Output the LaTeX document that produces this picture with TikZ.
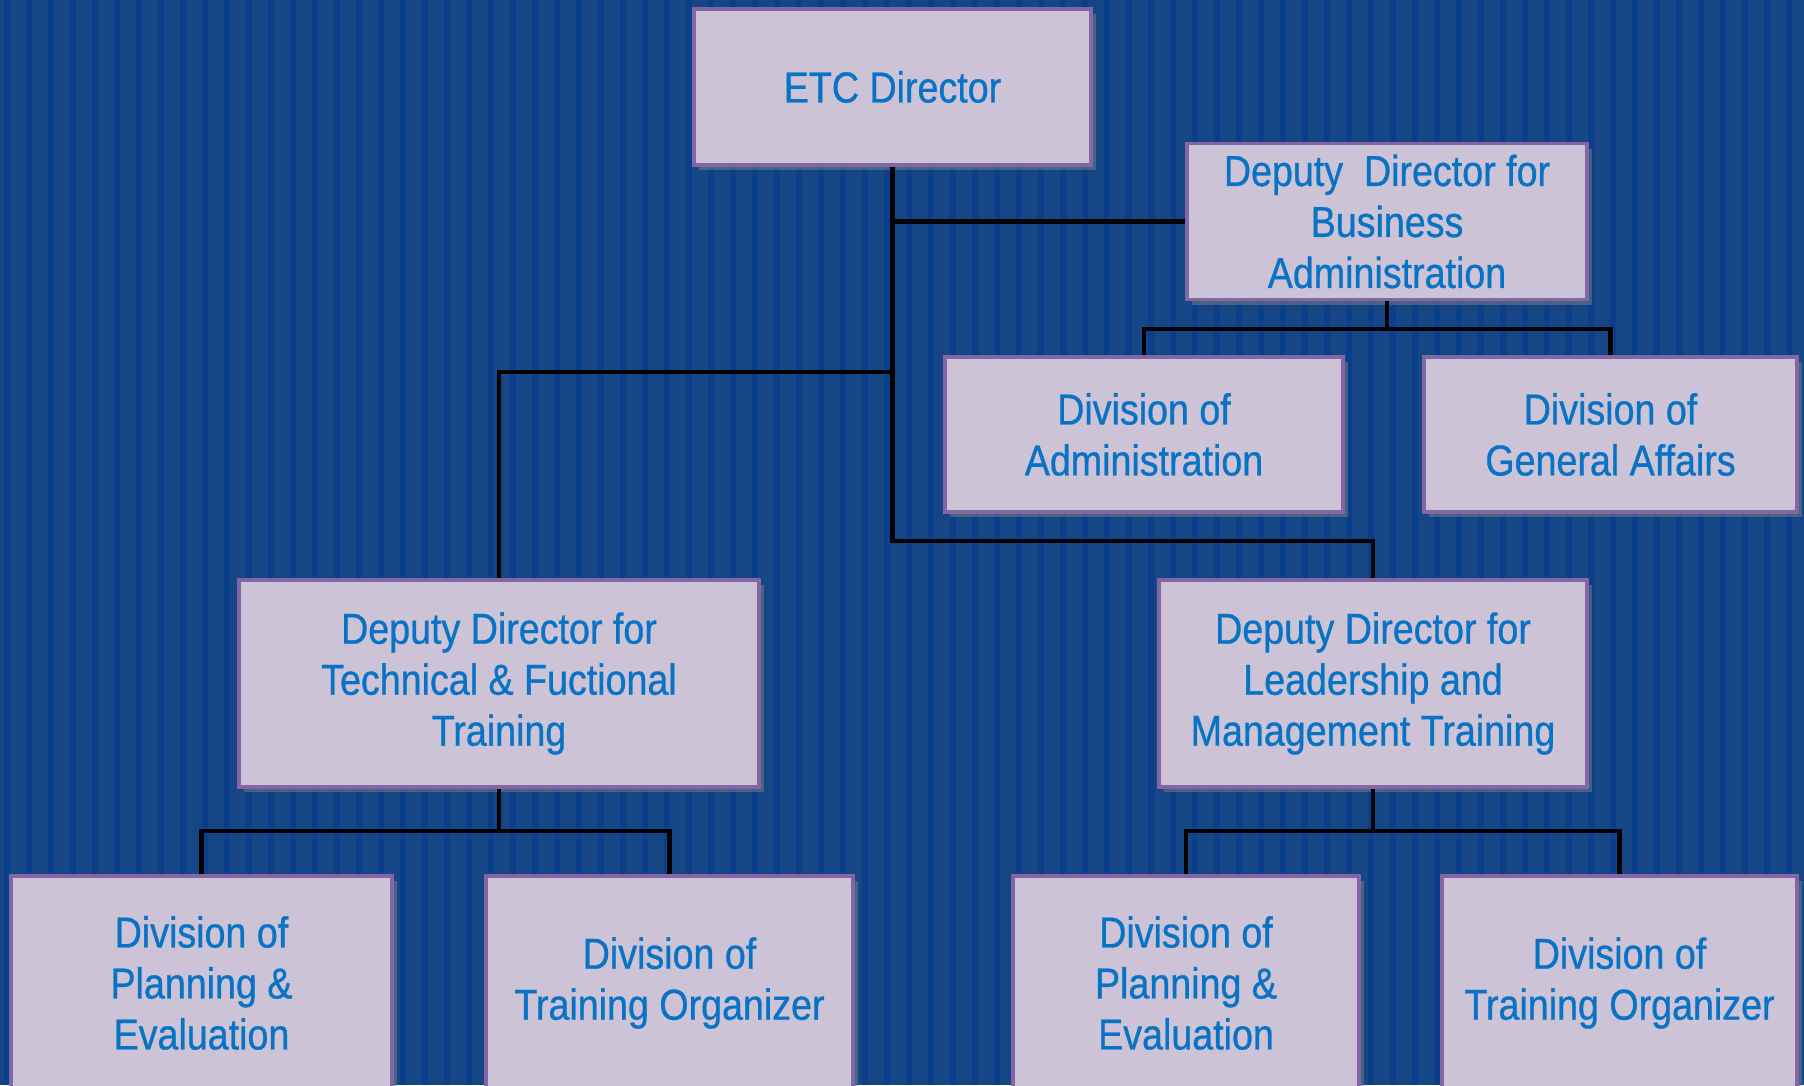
\documentclass[tikz,border=0pt]{standalone}
\usepackage{fontspec}
\setmainfont{Liberation Sans}[FakeStretch=0.87, FakeBold=0.7]
\usetikzlibrary{positioning,shadows}
\definecolor{bgBlue}{RGB}{22,70,133}
\definecolor{bgStripe}{RGB}{11,63,137}
\definecolor{boxFill}{RGB}{204,196,214}
\definecolor{boxLine}{RGB}{130,102,165}
\definecolor{boxText}{RGB}{8,114,196}
\tikzset{
    unit/.style={draw=boxLine, line width=1pt, fill=boxFill, text=boxText,
        align=center, inner sep=0pt, minimum height=1.56cm,
        font=\fontsize{12.3}{14.5}\selectfont,
        drop shadow={opacity=0.5, shadow xshift=1.5pt, shadow yshift=-1.5pt}},
    link/.style={black, line width=1.2pt}
}

\begin{document}
\begin{tikzpicture}[x=0.01cm, y=-0.01cm]
        \useasboundingbox (0,0) rectangle (1804,1085);
        \clip (0,0) rectangle (1804,1085);
        % background
        \fill[bgBlue] (0,0) rectangle (1804,1085);
        \foreach \i in {0,...,81}
            \fill[bgStripe] (4+22*\i,0) rectangle (10+22*\i,1085);
        % top level
        \node[unit, minimum width=3.97cm] (etc) at (892.5,87) {ETC Director};
        \node[unit, minimum width=4.00cm] (bus) at (1387,221.5) {Deputy~~Director for\\Business\\Administration};
        \node[unit, minimum width=3.98cm, minimum height=1.55cm] (adm) at (1144,434.5) {Division of\\Administration};
        \node[unit, minimum width=3.73cm, minimum height=1.55cm] (gen) at (1610.5,434.5) {Division of\\General Affairs};
        % deputies
        \node[unit, minimum width=5.20cm, minimum height=2.07cm] (tech) at (499,683.5) {Deputy Director for\\Technical \& Fuctional\\Training};
        \node[unit, minimum width=4.28cm, minimum height=2.07cm] (lead) at (1373,683.5) {Deputy Director for\\Leadership and\\Management Training};
        % divisions
        \node[unit, minimum width=3.81cm, minimum height=2.14cm] (planl) at (201.5,983) {Division of\\Planning \&\\Evaluation};
        \node[unit, minimum width=3.67cm, minimum height=2.14cm] (trainl) at (669.5,983) {Division of\\Training Organizer};
        \node[unit, minimum width=3.46cm, minimum height=2.14cm] (planr) at (1186,983) {Division of\\Planning \&\\Evaluation};
        \node[unit, minimum width=3.55cm, minimum height=2.14cm] (trainr) at (1619.5,983) {Division of\\Training Organizer};
        % junctions
        \coordinate (jl) at (892.5,372);
        \coordinate (jr) at (892.5,541);
        \coordinate (bj) at (1387,329);
        \coordinate (tj) at (499,831);
        \coordinate (lj) at (1373,831);
        % connectors
        \draw[link] (etc.south) |- (bus.west);
        \draw[link] (etc.south) -- (jr) -| (lead.north);
        \draw[link] (jl) -| (tech.north);
        \draw[link] (bus.south) -- (bj);
        \draw[link] (adm.north) |- (bj) -| (gen.north);
        \draw[link] (tech.south) -- (tj);
        \draw[link] (planl.north) |- (tj) -| (trainl.north);
        \draw[link] (lead.south) -- (lj);
        \draw[link] (planr.north) |- (lj) -| (trainr.north);
\end{tikzpicture}
\end{document}
